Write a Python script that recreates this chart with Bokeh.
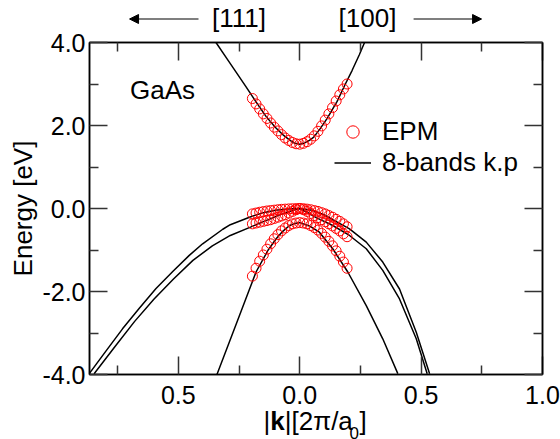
from bokeh.plotting import figure
from bokeh.layouts import column
from bokeh.models import (Range1d, FixedTicker, LinearAxis, Label, Arrow, NormalHead,
                          Legend, LegendItem, ColumnDataSource)
from bokeh.embed import file_html
from bokeh.resources import INLINE

FONT = "Liberation Sans"

# ---------------- axes / ticks ----------------
x_major = [-0.5, 0.0, 0.5, 1.0]
x_minor = [-0.75, -0.25, 0.25, 0.75]
x_labels = ["0.5", "0.0", "0.5", "1.0"]
y_major = [-4.0, -2.0, 0.0, 2.0, 4.0]
y_minor = [-3.0, -1.0, 1.0, 3.0]
y_labels = ["-4.0", "-2.0", "0.0", "2.0", "4.0"]

# ---------------- 8-band k.p curves (negative k = [111], positive k = [100]) ----------------
cb_k = [-0.345, -0.300, -0.258, -0.221, -0.180, -0.139, -0.100, -0.066, -0.040, -0.020, 0.000,
        0.020, 0.040, 0.058, 0.085, 0.113, 0.154, 0.188, 0.216, 0.245, 0.267]
cb_E = [4.00, 3.61, 3.25, 2.93, 2.57, 2.22, 1.95, 1.76, 1.64, 1.57, 1.55,
        1.58, 1.64, 1.72, 1.93, 2.17, 2.58, 3.00, 3.33, 3.70, 4.00]

hh_k = [-0.867, -0.800, -0.730, -0.660, -0.592, -0.520, -0.455, -0.400, -0.317, -0.286, -0.207,
        -0.150, -0.100, -0.050, 0.000, 0.050, 0.100, 0.136, 0.205, 0.274, 0.342, 0.411, 0.480, 0.535]
hh_E = [-3.98, -3.45, -2.90, -2.40, -1.93, -1.50, -1.13, -0.85, -0.50, -0.39, -0.21,
        -0.10, -0.04, -0.01, 0.00, -0.04, -0.15, -0.27, -0.49, -0.81, -1.29, -1.94, -2.98, -3.98]

lh_k = [-0.847, -0.760, -0.680, -0.600, -0.520, -0.440, -0.360, -0.286, -0.203, -0.160, -0.121,
        -0.085, -0.052, -0.020, 0.000, 0.030, 0.068, 0.136, 0.205, 0.274, 0.342, 0.411, 0.480, 0.525]
lh_E = [-3.98, -3.32, -2.72, -2.18, -1.70, -1.25, -0.90, -0.65, -0.45, -0.34, -0.25,
        -0.16, -0.09, -0.03, 0.00, -0.09, -0.22, -0.41, -0.65, -0.97, -1.49, -2.18, -3.14, -3.98]

so_k = [-0.341, -0.260, -0.180, -0.130, -0.097, -0.070, -0.042, -0.020, 0.000,
        0.040, 0.081, 0.136, 0.198, 0.274, 0.342, 0.404]
so_E = [-4.00, -2.76, -1.53, -1.00, -0.73, -0.55, -0.41, -0.36, -0.34,
        -0.42, -0.57, -0.97, -1.53, -2.34, -3.14, -3.98]

# ---------------- EPM points ----------------
epm_k = [-0.195, -0.180, -0.165, -0.150, -0.135, -0.120, -0.105, -0.090, -0.075, -0.060,
         -0.045, -0.030, -0.015, 0.000, 0.015, 0.030, 0.045, 0.060, 0.075, 0.090,
         0.105, 0.120, 0.135, 0.150, 0.165, 0.180, 0.195]
epm_cb = [2.65, 2.52, 2.40, 2.28, 2.17, 2.06, 1.96, 1.87, 1.78, 1.70,
          1.64, 1.59, 1.56, 1.55, 1.57, 1.61, 1.67, 1.75, 1.86, 1.99,
          2.13, 2.28, 2.43, 2.59, 2.74, 2.88, 3.00]
epm_hh = [-0.13, -0.11, -0.09, -0.075, -0.06, -0.05, -0.04, -0.03, -0.02, -0.015,
          -0.01, -0.006, -0.003, 0.00, -0.005, -0.015, -0.03, -0.05, -0.07, -0.10,
          -0.13, -0.17, -0.21, -0.26, -0.31, -0.37, -0.44]
epm_lh = [-0.37, -0.35, -0.33, -0.31, -0.29, -0.27, -0.24, -0.21, -0.18, -0.15,
          -0.11, -0.07, -0.03, 0.00, -0.03, -0.07, -0.12, -0.17, -0.22, -0.27,
          -0.32, -0.37, -0.42, -0.48, -0.54, -0.61, -0.68]
epm_so = [-1.63, -1.44, -1.27, -1.12, -0.98, -0.85, -0.73, -0.63, -0.54, -0.47,
          -0.41, -0.37, -0.35, -0.34, -0.35, -0.37, -0.41, -0.46, -0.52, -0.60,
          -0.69, -0.79, -0.90, -1.02, -1.15, -1.29, -1.44]

material = "GaAs"
series_names = ["EPM", "8-bands k.p"]
dir_labels = ["[111]", "[100]"]

xr = Range1d(-0.866, 1.0)
SIDE = dict(min_border_left=89, min_border_right=18)

# ---------------- header: direction labels and arrows (y measured from header top) ----------------
hdr = figure(width=560, height=32, x_range=xr, y_range=Range1d(32, 0), output_backend="svg",
             toolbar_location=None, x_axis_type=None, y_axis_type=None,
             min_border_top=0, min_border_bottom=0, outline_line_color=None, **SIDE)
for xpos, txt in [(-0.250, dir_labels[0]), (0.279, dir_labels[1])]:
    hdr.add_layout(Label(x=xpos, y=17.5, text=txt, text_font=FONT, text_font_size="26px",
                         text_baseline="middle", text_align="center", text_color="black"))
hdr.add_layout(Arrow(x_start=-0.417, y_start=18.5, x_end=-0.701, y_end=18.5, line_width=1.2,
                     line_color="black",
                     end=NormalHead(size=9, fill_color="black", line_color="black")))
hdr.add_layout(Arrow(x_start=0.469, y_start=18.5, x_end=0.749, y_end=18.5, line_width=1.2,
                     line_color="black",
                     end=NormalHead(size=9, fill_color="black", line_color="black")))

# ---------------- main plot ----------------
p = figure(width=None, height=None, frame_width=453, frame_height=332,
           x_range=xr, y_range=Range1d(-4.0, 4.0),
           output_backend="svg", toolbar_location=None,
           min_border_top=10, min_border_bottom=34, **SIDE)
p.grid.visible = False
p.outline_line_color = "black"
p.outline_line_width = 1.5


def style_axis(ax, ticks, minor, labels, show_labels):
    ax.ticker = FixedTicker(ticks=ticks, minor_ticks=minor)
    ax.major_tick_in = 18
    ax.major_tick_out = 0
    ax.minor_tick_in = 9
    ax.minor_tick_out = 0
    ax.major_tick_line_width = 1.5
    ax.minor_tick_line_width = 1.5
    ax.major_tick_line_color = "#333333"
    ax.minor_tick_line_color = "#333333"
    ax.axis_line_width = 1.5
    ax.axis_line_color = "black"
    if show_labels:
        ax.major_label_overrides = dict(zip(ticks, labels))
        ax.major_label_text_font = FONT
        ax.major_label_text_font_size = "25px"
        ax.major_label_text_color = "black"
    else:
        ax.major_label_text_font_size = "0px"
        ax.major_label_text_color = None
        ax.major_label_standoff = 0


xa = p.xaxis[0]
style_axis(xa, x_major, x_minor, x_labels, True)
xa.major_label_standoff = 11
ya = p.yaxis[0]
style_axis(ya, y_major, y_minor, y_labels, True)
ya.major_label_standoff = 4
ya.axis_label = "Energy [eV]"
ya.axis_label_text_font = FONT
ya.axis_label_text_font_size = "26px"
ya.axis_label_text_font_style = "normal"
ya.axis_label_text_color = "black"
ya.axis_label_standoff = 1

top = LinearAxis()
style_axis(top, x_major, x_minor, x_labels, False)
p.add_layout(top, "above")
right = LinearAxis()
style_axis(right, y_major, y_minor, y_labels, False)
p.add_layout(right, "right")

line_rs = []
for kk, ee in [(cb_k, cb_E), (hh_k, hh_E), (lh_k, lh_E), (so_k, so_E)]:
    line_rs.append(p.line(kk, ee, line_color="black", line_width=1.5))

src = ColumnDataSource(dict(k=epm_k, cb=epm_cb, hh=epm_hh, lh=epm_lh, so=epm_so))
epm_rs = []
for col in ["cb", "hh", "lh", "so"]:
    epm_rs.append(p.scatter("k", col, source=src, marker="circle", size=10, fill_color=None,
                            line_color="red", line_width=1))

legend = Legend(items=[LegendItem(label=series_names[0], renderers=[epm_rs[0]]),
                       LegendItem(label=series_names[1], renderers=[line_rs[0]])],
                location=(245, 196), glyph_width=37, glyph_height=31, label_height=31,
                label_standoff=11, spacing=0, padding=0, margin=0,
                label_text_font=FONT, label_text_font_size="26px", label_text_color="black",
                border_line_alpha=0, background_fill_alpha=0)
p.add_layout(legend)

p.add_layout(Label(x=-0.699, y=2.867, text=material, text_font=FONT, text_font_size="26px",
                   text_baseline="middle", text_align="left", text_color="black"))

# ---------------- footer: x axis title |k|[2pi/a0] (y measured from footer top) ----------------
ftr = figure(width=560, height=31, x_range=xr, y_range=Range1d(31, 0), output_backend="svg",
             toolbar_location=None, x_axis_type=None, y_axis_type=None,
             min_border_top=0, min_border_bottom=0, outline_line_color=None, **SIDE)
xl_x, xl_y = -0.149, 12.0
pieces = [("|", 0, 0, "26px", "normal"), ("k", 6.8, 0, "26px", "bold"),
          ("|[2π/a", 21.2, 0, "26px", "normal"), ("0", 86.0, -12.0, "17px", "normal"),
          ("]", 96.0, 0, "26px", "normal")]
for t, dx, dy, fs, st in pieces:
    ftr.add_layout(Label(x=xl_x, y=xl_y, x_offset=dx, y_offset=dy, text=t, text_font=FONT,
                         text_font_size=fs, text_font_style=st, text_baseline="middle",
                         text_align="left", text_color="black"))

layout = column(hdr, p, ftr, spacing=0)
open("out.html", "w").write(file_html(layout, INLINE))
